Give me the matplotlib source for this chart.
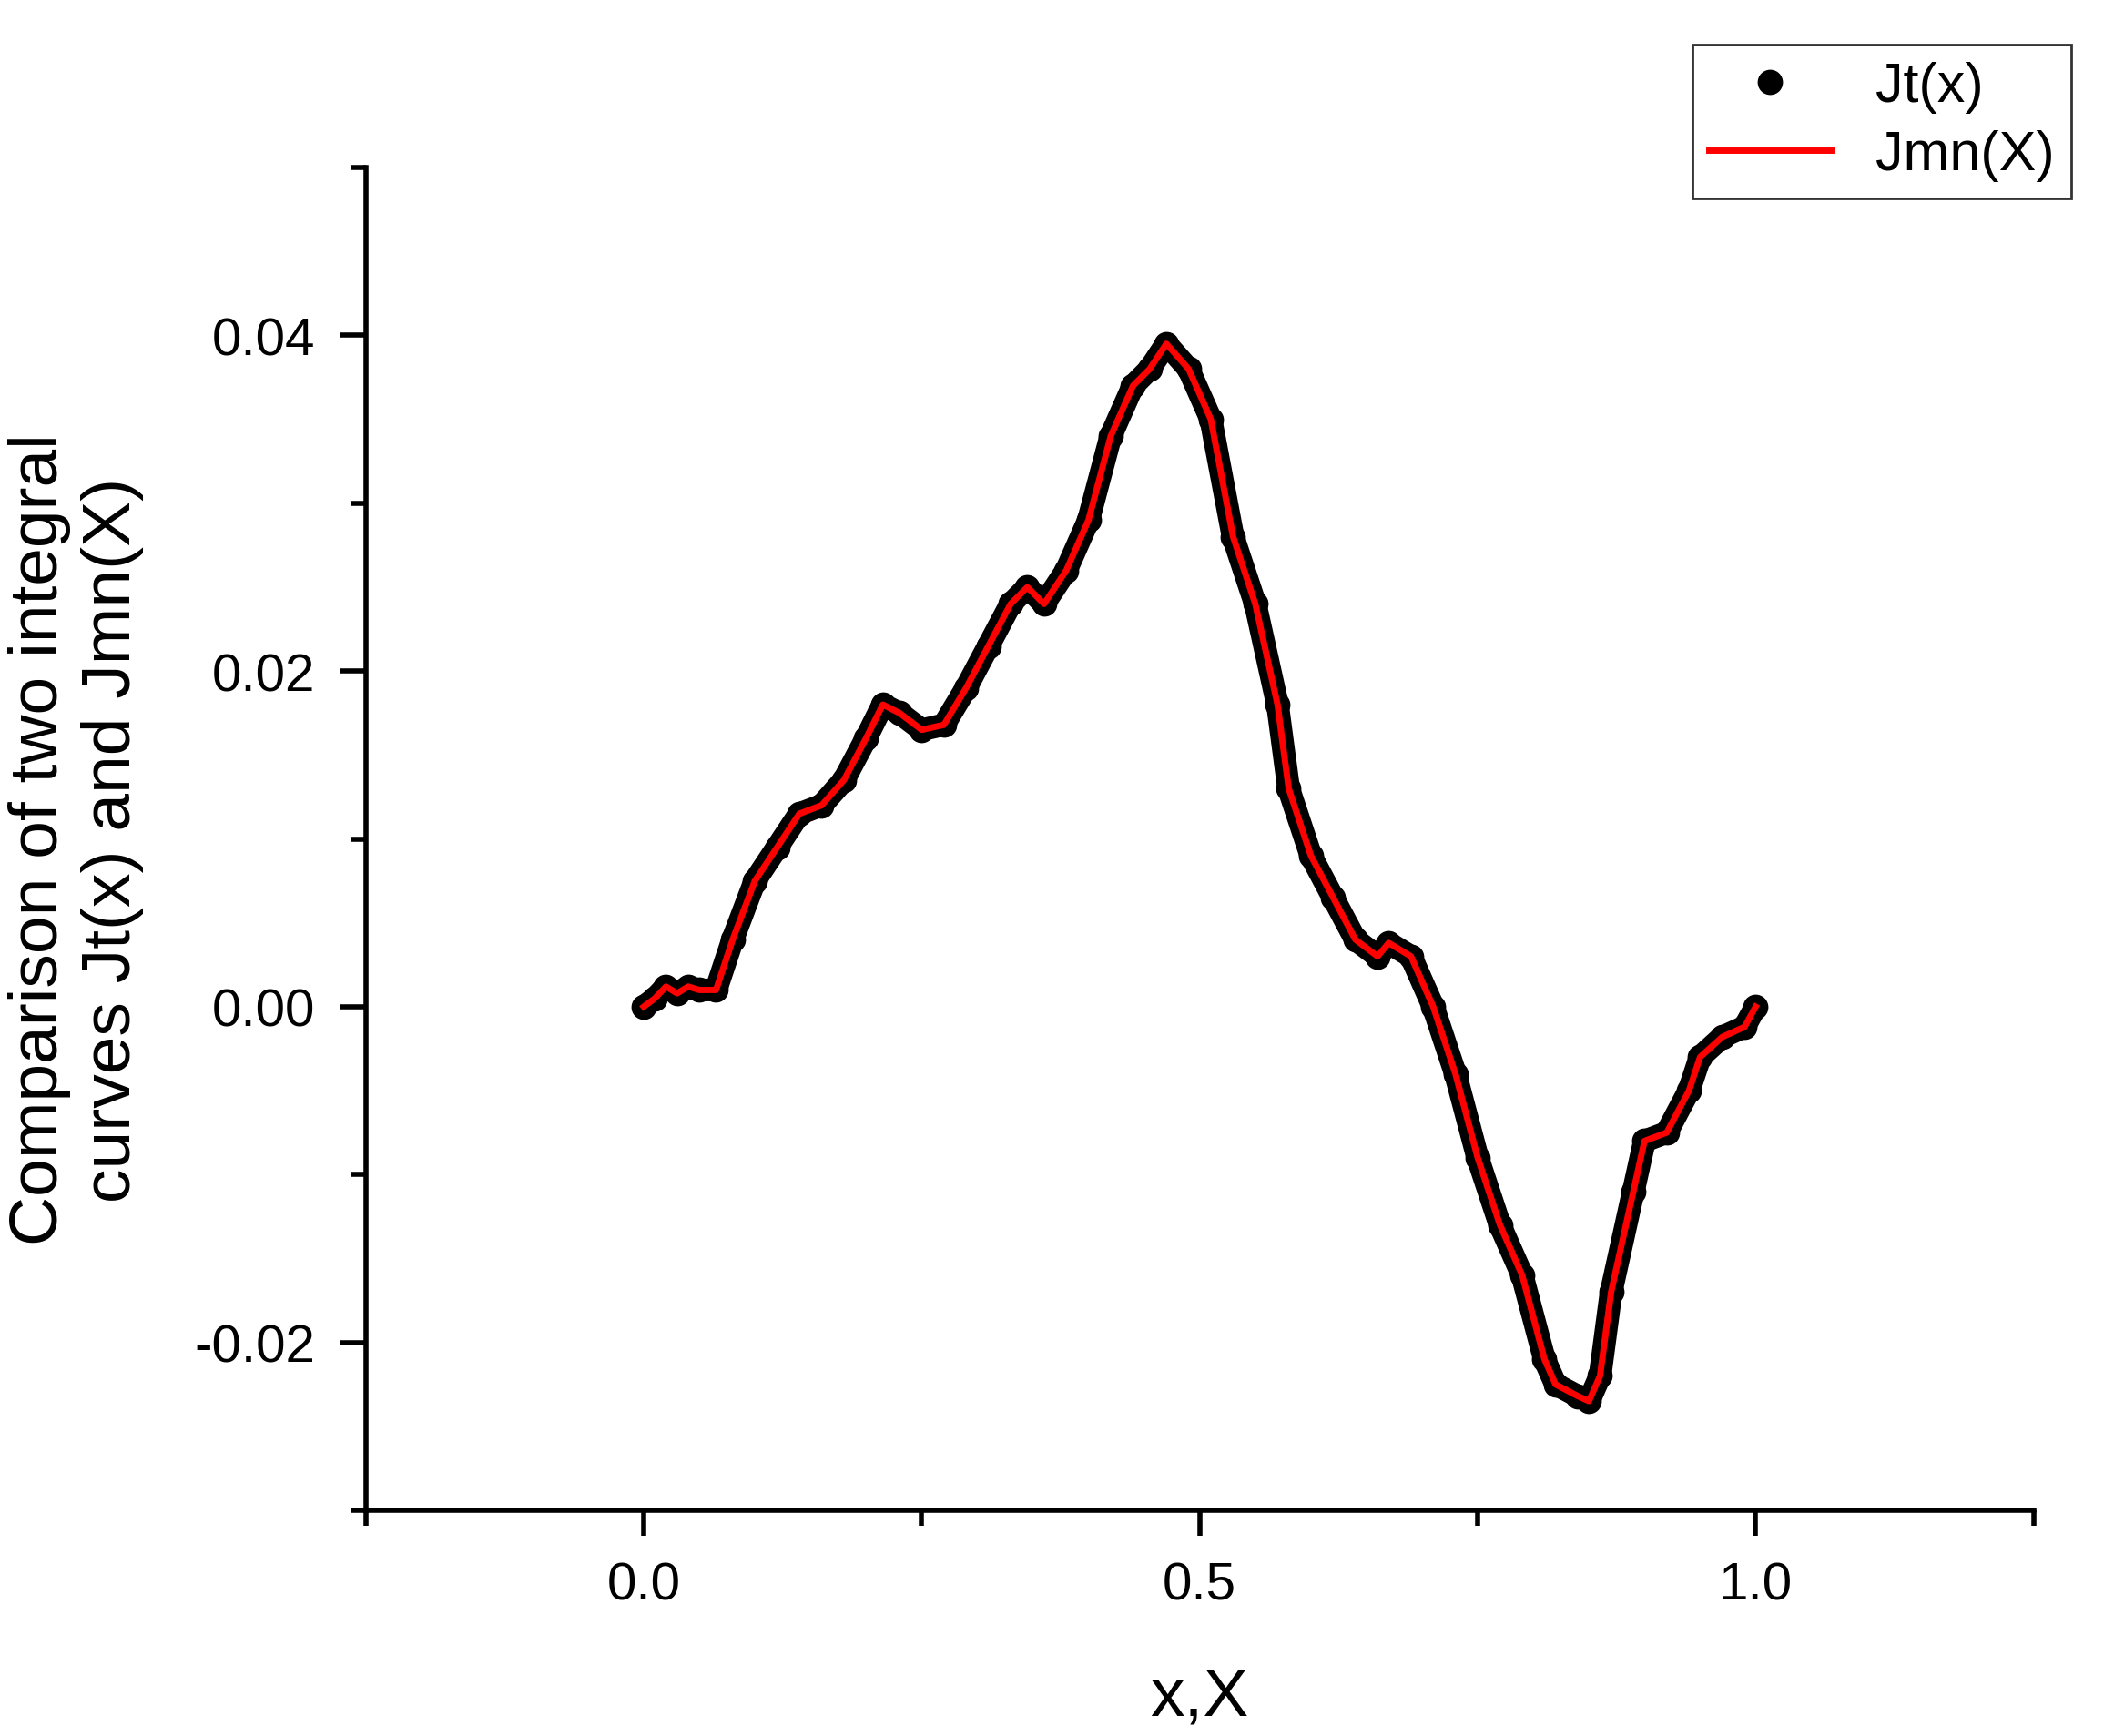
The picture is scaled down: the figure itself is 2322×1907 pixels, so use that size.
import matplotlib
matplotlib.use("Agg")
import matplotlib.pyplot as plt
from matplotlib.ticker import MultipleLocator, FixedLocator

plt.rcParams["font.family"] = ["Liberation Sans", "DejaVu Sans"]

x_vals = [0.0, 0.01, 0.02, 0.03, 0.04, 0.05, 0.065, 0.08, 0.1, 0.12, 0.14, 0.16, 0.18,
          0.2, 0.215, 0.23, 0.25, 0.27, 0.29, 0.31, 0.33, 0.345, 0.36, 0.38, 0.4, 0.42,
          0.44, 0.455, 0.47, 0.49, 0.51, 0.53, 0.55, 0.57, 0.58, 0.6, 0.62, 0.64, 0.66,
          0.67, 0.69, 0.71, 0.73, 0.75, 0.77, 0.79, 0.81, 0.82, 0.84, 0.85, 0.86, 0.87,
          0.89, 0.9, 0.92, 0.94, 0.95, 0.97, 0.99, 1.0]
y_vals = [0.0, 0.0005, 0.0012, 0.0008, 0.0012, 0.001, 0.001, 0.004, 0.0075, 0.0095,
          0.0115, 0.012, 0.0135, 0.016, 0.018, 0.0175, 0.0165, 0.0168, 0.019, 0.0215,
          0.024, 0.025, 0.024, 0.026, 0.029, 0.034, 0.037, 0.038, 0.0395, 0.038, 0.035,
          0.028, 0.024, 0.018, 0.013, 0.009, 0.0065, 0.004, 0.003, 0.0038, 0.003, 0.0,
          -0.004, -0.009, -0.013, -0.016, -0.021, -0.0225, -0.0232, -0.0235, -0.022,
          -0.017, -0.011, -0.008, -0.0075, -0.005, -0.003, -0.0018, -0.0012, 0.0]

fig = plt.figure(figsize=(11.61, 9.54), dpi=200)
ax = fig.add_axes([0.173, 0.130, 0.789, 0.773])

ax.plot(x_vals, y_vals, color="black", lw=9, solid_capstyle="round", zorder=2)
ax.plot(x_vals, y_vals, "o", color="black", ms=9, zorder=2, label="Jt(x)")
ax.plot(x_vals, y_vals, color="red", lw=2.5, zorder=3, label="Jmn(X)")

ax.set_xlim(-0.25, 1.25)
ax.set_ylim(-0.03, 0.05)
ax.xaxis.set_major_locator(FixedLocator([0.0, 0.5, 1.0]))
ax.xaxis.set_minor_locator(FixedLocator([-0.25, 0.25, 0.75, 1.25]))
ax.yaxis.set_major_locator(MultipleLocator(0.02))
ax.yaxis.set_minor_locator(FixedLocator([-0.03, -0.01, 0.01, 0.03, 0.05]))
ax.xaxis.set_major_formatter(plt.FuncFormatter(lambda v, p: f"{v:.1f}"))
ax.yaxis.set_major_formatter(plt.FuncFormatter(lambda v, p: f"{v:.2f}"))

for s in ["top", "right"]:
    ax.spines[s].set_visible(False)
for s in ["left", "bottom"]:
    ax.spines[s].set_linewidth(2)
ax.tick_params(which="major", direction="out", length=10, width=2, labelsize=21, pad=10)
ax.tick_params(which="minor", direction="out", length=6, width=2)

ax.set_xlabel("x,X", fontsize=27, labelpad=22)
ax.set_ylabel("Comparison of two integral\ncurves Jt(x) and Jmn(X)", fontsize=27, labelpad=20)

fig.legend(loc="upper right", bbox_to_anchor=(0.993, 0.99), fontsize=22,
           frameon=True, fancybox=False, edgecolor="black", handlelength=2.2,
           borderpad=0.3, labelspacing=0.3)

fig.savefig("out.png", dpi=200)
